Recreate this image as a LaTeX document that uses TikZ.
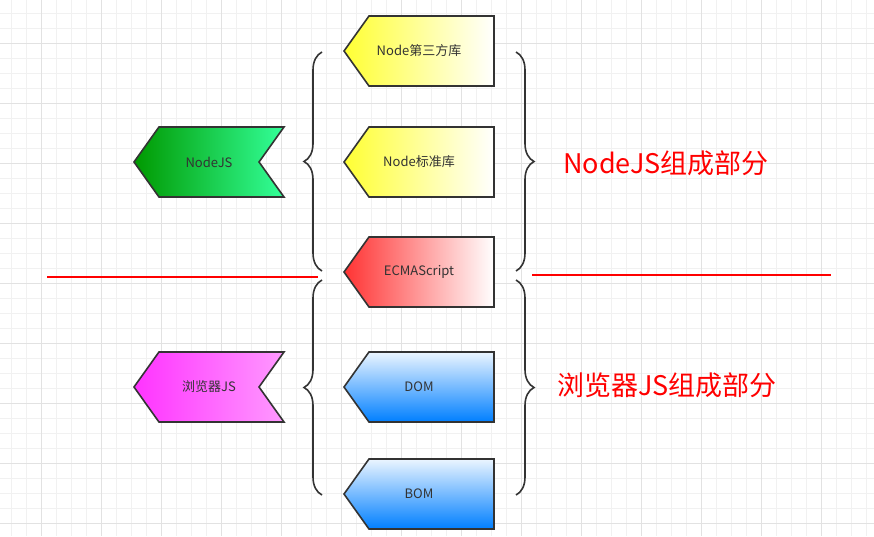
\documentclass[tikz,border=0pt]{standalone}
\usepackage{fontspec}
\setmainfont{Noto Sans CJK SC}
\definecolor{gridminor}{RGB}{241,241,241}
\definecolor{gridmajor}{RGB}{226,226,226}
\definecolor{edgegray}{RGB}{51,51,51}
\definecolor{greenL}{RGB}{0,153,0}
\definecolor{greenR}{RGB}{51,255,153}
\definecolor{pinkL}{RGB}{255,51,255}
\definecolor{pinkR}{RGB}{255,153,255}
\definecolor{yellowL}{RGB}{255,255,51}
\definecolor{redL}{RGB}{255,51,51}
\definecolor{blueT}{RGB}{235,245,255}
\definecolor{blueB}{RGB}{0,127,255}
\usetikzlibrary{shapes.symbols, decorations.pathreplacing, positioning}

\begin{document}
\begin{tikzpicture}[x=1pt, y=-1pt,
    tag/.style={signal, signal to=west, signal from=east, signal pointer angle=109,
      draw=edgegray, line width=1.6pt, minimum width=150pt, minimum height=70pt,
      inner sep=0pt, outer sep=0pt, text=edgegray, font=\fontsize{13}{15}\selectfont},
    box/.style={signal, signal to=west, signal pointer angle=109,
      draw=edgegray, line width=1.6pt, minimum width=150pt, minimum height=70pt,
      inner sep=0pt, outer sep=0pt, xshift=12.5pt,
      label={[boxtext]center:#1}},
    boxtext/.style={text=edgegray, xshift=-12.5pt, inner sep=0pt,
      font=\fontsize{13}{15}\selectfont},
    bracestyle/.style={draw=edgegray, line width=1.6pt,
      decorate, decoration={brace, amplitude=18pt}},
    divider/.style={red, line width=1.6pt},
    partlabel/.style={red, anchor=west, inner sep=0pt, font=\fontsize{27}{30}\selectfont}]
  \useasboundingbox (0,0) rectangle (874,536);
  \fill[white] (0,0) rectangle (874,536);

  % Grid
  \foreach \x in {11,26,...,874} \draw[gridminor, line width=1pt] (\x,0) -- (\x,536);
  \foreach \y in {13,28,...,536} \draw[gridminor, line width=1pt] (0,\y) -- (874,\y);
  \foreach \x in {41,101,...,874} \draw[gridmajor, line width=1pt] (\x,0) -- (\x,536);
  \foreach \y in {43,103,...,536} \draw[gridmajor, line width=1pt] (0,\y) -- (874,\y);

  % Left tags
  \node[tag, left color=greenL, right color=greenR] (nodejs) at (209,162) {NodeJS};
  \node[tag, left color=pinkL, right color=pinkR] (browserjs) at (209,387) {浏览器JS};

  % Right boxes
  \node[box=Node第三方库, left color=yellowL, right color=white] (thirdparty) at (419,51) {};
  \node[box=Node标准库, left color=yellowL, right color=white] (stdlib) at (419,162) {};
  \node[box=ECMAScript, left color=redL, right color=white] (ecma) at (419,272) {};
  \node[box=DOM, top color=blueT, bottom color=blueB] (dom) at (419,387) {};
  \node[box=BOM, top color=blueT, bottom color=blueB] (bom) at (419,494) {};

  % Braces
  \coordinate (lbA) at (322,52);
  \coordinate (lbB) at (322,271);
  \coordinate (lbC) at (322,280);
  \coordinate (lbD) at (322,495);
  \coordinate (rbA) at (516,52);
  \coordinate (rbB) at (516,271);
  \coordinate (rbC) at (516,280);
  \coordinate (rbD) at (516,495);
  \draw[bracestyle] (lbB) -- (lbA);
  \draw[bracestyle] (lbD) -- (lbC);
  \draw[bracestyle] (rbA) -- (rbB);
  \draw[bracestyle] (rbC) -- (rbD);

  % Dividers
  \coordinate (divLa) at (47,277);
  \coordinate (divLb) at (318,277);
  \coordinate (divRa) at (532,275);
  \coordinate (divRb) at (831,275);
  \draw[divider] (divLa) -- (divLb);
  \draw[divider] (divRa) -- (divRb);

  % Part labels
  \node[partlabel] (nodepart) at (563,163) {NodeJS组成部分};
  \node[partlabel] (browserpart) at (557,385) {浏览器JS组成部分};
\end{tikzpicture}
\end{document}
